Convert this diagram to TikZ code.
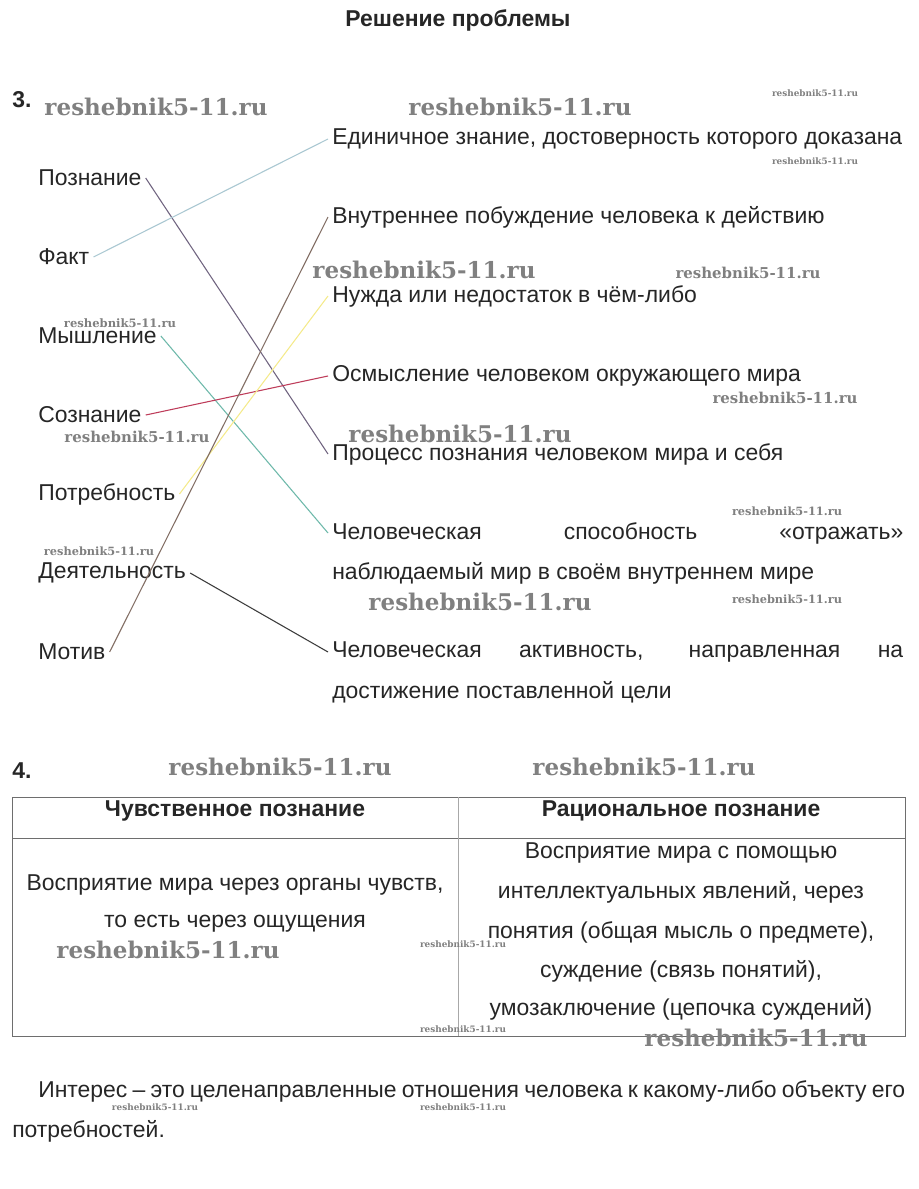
\documentclass[tikz,border=0pt]{standalone}
\usepackage{fontspec}
\setmainfont{Liberation Sans}
\newfontfamily\wmfont{DejaVu Serif}
\usepackage{graphicx}
\newdimen\pxu \pxu=0.75pt
\newcommand\wmark[1]{\resizebox{#1\pxu}{!}{\wmfont\bfseries reshebnik5-11.ru}}
\definecolor{wmgray}{rgb}{0.5,0.5,0.5}
\definecolor{cpoz}{RGB}{112,100,128}
\definecolor{cfakt}{RGB}{170,200,210}
\definecolor{cmysh}{RGB}{110,185,170}
\definecolor{csoz}{RGB}{190,60,90}
\definecolor{cpotr}{RGB}{245,235,140}
\definecolor{cdeyat}{RGB}{60,60,60}
\definecolor{cmotiv}{RGB}{130,110,100}
\definecolor{tline}{RGB}{110,110,110}
\begin{document}
\begin{tikzpicture}[x=0.75pt,y=-0.75pt,
  txt/.style={anchor=west, inner xsep=3pt, inner ysep=0pt, font=\fontsize{17.2}{20}\selectfont, text=black!85},
  ctxt/.style={anchor=center, inner sep=0pt, font=\fontsize{17.2}{20}\selectfont, text=black!85},
  hdr/.style={anchor=center, inner sep=0pt, font=\fontsize{17.2}{20}\selectfont\bfseries, text=black!85},
  wm/.style={text=wmgray, inner sep=0pt, anchor=center},
  conn/.style={line width=0.8pt},
  tl/.style={draw=tline, line width=0.6pt}]
\useasboundingbox[fill=white] (0,0) rectangle (918,1189);
% title
\node[hdr] (title) at (458,20) {Решение проблемы};
\node[hdr, anchor=west] (n3) at (12,100) {3.};
\node[hdr, anchor=west] (n4) at (12,771) {4.};
% left column
\node[txt] (poz) at (34,178) {Познание};
\node[txt] (fakt) at (34,257) {Факт};
\node[txt] (mysh) at (34,336) {Мышление};
\node[txt] (soz) at (34,415) {Сознание};
\node[txt] (potr) at (34,494) {Потребность};
\node[txt] (deyat) at (34,573) {Деятельность};
\node[txt] (motiv) at (34,652) {Мотив};
% right column
\node[txt] (r1) at (328,139) {Единичное знание, достоверность которого доказана};
\node[txt] (r2) at (328,217) {Внутреннее побуждение человека к действию};
\node[txt] (r3) at (328,296) {Нужда или недостаток в чём-либо};
\node[txt] (r4) at (328,376) {Осмысление человеком окружающего мира};
\node[txt] (r5) at (328,454) {Процесс познания человеком мира и себя};
\node[txt] (r6) at (328,533) {\hbox to 571\pxu{Человеческая способность «отражать»}};
\node[txt] (r6b) at (328,573) {наблюдаемый мир в своём внутреннем мире};
\node[txt] (r7) at (328,652) {\hbox to 571\pxu{Человеческая активность, направленная на}};
\node[txt] (r7b) at (328,692) {достижение поставленной цели};
% connectors
\draw[conn, cpoz] (poz.east) -- (r5.west);
\draw[conn, cfakt] (fakt.east) -- (r1.west);
\draw[conn, cmysh] (mysh.east) -- (r6.west);
\draw[conn, csoz] (soz.east) -- (r4.west);
\draw[conn, cpotr] (potr.east) -- (r3.west);
\draw[conn, cdeyat] (deyat.east) -- (r7.west);
\draw[conn, cmotiv] (motiv.east) -- (r2.west);
% table
\draw[tl] (12,797) rectangle (905,1036);
\draw[tl] (12,838) -- (905,838);
\draw[tl, draw=tline!60] (458,797) -- (458,1036);
\node[hdr] (h1) at (235,811) {Чувственное познание};
\node[hdr] (h2) at (681,811) {Рациональное познание};
\node[ctxt] (a1) at (235,885) {Восприятие мира через органы чувств,};
\node[ctxt] (a2) at (235,924) {то есть через ощущения};
\node[ctxt] (b1) at (681,853) {Восприятие мира с помощью};
\node[ctxt] (b2) at (681,892) {интеллектуальных явлений, через};
\node[ctxt] (b3) at (681,932) {понятия (общая мысль о предмете),};
\node[ctxt] (b4) at (681,971) {суждение (связь понятий),};
\node[ctxt] (b5) at (681,1009) {умозаключение (цепочка суждений)};
% final paragraph
\node[txt] (p1) at (34,1091) {\hbox to 867\pxu{Интерес – это целенаправленные отношения человека к какому-либо объекту его}};
\node[txt] (p2) at (8,1131) {потребностей.};
% watermarks
\node[wm] (w1) at (156,107) {\wmark{223}};
\node[wm] (w2) at (520,107) {\wmark{223}};
\node[wm] (w3) at (815,93) {\wmark{86}};
\node[wm] (w4) at (815,161) {\wmark{86}};
\node[wm] (w5) at (424,270) {\wmark{223}};
\node[wm] (w6) at (748,273) {\wmark{145}};
\node[wm] (w7) at (120,323) {\wmark{112}};
\node[wm] (w8) at (785,398) {\wmark{145}};
\node[wm] (w9) at (460,434) {\wmark{223}};
\node[wm] (w10) at (137,437) {\wmark{145}};
\node[wm] (w11) at (787,511) {\wmark{110}};
\node[wm] (w12) at (99,551) {\wmark{110}};
\node[wm] (w13) at (480,602) {\wmark{223}};
\node[wm] (w14) at (787,599) {\wmark{110}};
\node[wm] (w15) at (280,767) {\wmark{223}};
\node[wm] (w16) at (644,767) {\wmark{223}};
\node[wm] (w17) at (168,950) {\wmark{223}};
\node[wm] (w18) at (463,944) {\wmark{86}};
\node[wm] (w19) at (463,1029) {\wmark{86}};
\node[wm] (w20) at (756,1038) {\wmark{223}};
\node[wm] (w21) at (155,1107) {\wmark{86}};
\node[wm] (w22) at (463,1107) {\wmark{86}};
\end{tikzpicture}
\end{document}
